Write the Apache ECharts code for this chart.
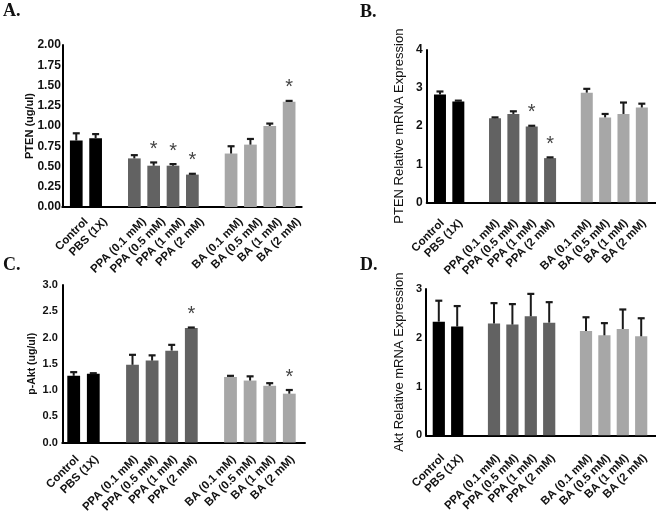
<!DOCTYPE html>
<html><head><meta charset="utf-8">
<script src="https://cdn.jsdelivr.net/npm/echarts@6/dist/echarts.min.js"></script>
<style>html,body{margin:0;padding:0;background:#fff}#c{width:656px;height:511px}</style>
</head><body><div id="c"></div>
<script>
// ---- data ----
const categories = ['Control','PBS (1X)','PPA (0.1 mM)','PPA (0.5 mM)','PPA (1 mM)','PPA (2 mM)','BA (0.1 mM)','BA (0.5 mM)','BA (1 mM)','BA (2 mM)'];
const groups = ['ctrl','ctrl','ppa','ppa','ppa','ppa','ba','ba','ba','ba'];

const ptenProtein      = [0.82,0.85,0.60,0.51,0.51,0.40,0.66,0.77,1.00,1.30];
const ptenProteinErr   = [0.09,0.05,0.04,0.04,0.02,0.01,0.09,0.07,0.03,0.01];
const ptenProteinSig   = [0,0,0,1,1,1,0,0,0,1];
const ptenProteinTicks = ['0.00','0.25','0.50','0.75','1.00','1.25','1.50','1.75','2.00'];

const ptenMrna      = [2.83,2.65,2.21,2.32,1.99,1.16,2.88,2.23,2.32,2.49];
const ptenMrnaErr   = [0.08,0.02,0.02,0.07,0.02,0.02,0.10,0.09,0.30,0.10];
const ptenMrnaSig   = [0,0,0,0,1,1,0,0,0,0];
const ptenMrnaTicks = ['0','1','2','3','4'];

const pAkt      = [1.27,1.31,1.48,1.56,1.75,2.18,1.25,1.18,1.08,0.93];
const pAktErr   = [0.07,0.01,0.19,0.10,0.11,0.01,0.02,0.08,0.05,0.07];
const pAktSig   = [0,0,0,0,0,1,0,0,0,1];
const pAktTicks = ['0.0','0.5','1.0','1.5','2.0','2.5','3.0'];

const aktMrna      = [2.33,2.23,2.29,2.27,2.44,2.31,2.14,2.05,2.18,2.03];
const aktMrnaErr   = [0.43,0.42,0.42,0.42,0.46,0.42,0.28,0.25,0.40,0.37];
const aktMrnaSig   = [0,0,0,0,0,0,0,0,0,0];
const aktMrnaTicks = ['0','1','2','3'];

// ---- layout / style ----
const colors = {ctrl:'#000000', ppa:'#626262', ba:'#a7a7a7'};
const FONT = '"Liberation Sans", Arial, sans-serif';
const slotOf = [0,1,3,4,5,6,8,9,10,11];
const axisCats = ['Control','PBS (1X)',' ','PPA (0.1 mM)','PPA (0.5 mM)','PPA (1 mM)','PPA (2 mM)','  ','BA (0.1 mM)','BA (0.5 mM)','BA (1 mM)','BA (2 mM)'];

const panels = [
  {title:'A.', tx:3, ty:2, name:'PTEN (ug/ul)', nameSize:11, nameBold:true, nameGap:27, tickSize:12, tm:1.5,
   vals:ptenProtein, errs:ptenProteinErr, sig:ptenProteinSig, ticks:ptenProteinTicks,
   axis:{left:62.3, top:45, width:239.4, height:162}, bars:{left:66.6, width:232.2}, bw:12.7, lm:3, lh:28},
  {title:'B.', tx:360, ty:3, name:'PTEN Relative mRNA Expression', nameSize:13, nameBold:false, nameGap:21, tickSize:12, tm:4,
   vals:ptenMrna, errs:ptenMrnaErr, sig:ptenMrnaSig, ticks:ptenMrnaTicks,
   axis:{left:426.7, top:50, width:229.3, height:152.3}, bars:{left:430.8, width:220.2}, bw:12, lm:16.5, lh:7},
  {title:'C.', tx:3, ty:256, name:'p-Akt (ug/ul)', nameSize:10.5, nameBold:true, nameGap:25, tickSize:11, tm:4.5,
   vals:pAkt, errs:pAktErr, sig:pAktSig, ticks:pAktTicks,
   axis:{left:62.3, top:285, width:242.7, height:157.5}, bars:{left:63.9, width:235.2}, bw:12.8, lm:11.5, lh:10},
  {title:'D.', tx:360, ty:256, name:'Akt Relative mRNA Expression', nameSize:13, nameBold:false, nameGap:20, tickSize:11, tm:4,
   vals:aktMrna, errs:aktMrnaErr, sig:aktMrnaSig, ticks:aktMrnaTicks,
   axis:{left:426, top:289, width:230, height:146.3}, bars:{left:429.6, width:220.8}, bw:12.2, lm:17, lh:11.4}
];

const grid = [], xAxis = [], yAxis = [], series = [], graphic = [];
panels.forEach((p, i) => {
  const tickNums = p.ticks.map(Number);
  const ymin = tickNums[0], ymax = tickNums[tickNums.length-1], step = tickNums[1]-tickNums[0];
  const dec = (p.ticks[1].split('.')[1] || '').length;
  const ga = grid.length;
  grid.push({left:p.axis.left, top:p.axis.top, width:p.axis.width, height:p.axis.height, containLabel:false, outerBoundsMode:'none'});
  const gb = grid.length;
  grid.push({left:p.bars.left, top:p.axis.top, width:p.bars.width, height:p.axis.height, containLabel:false, outerBoundsMode:'none'});
  // axis frame grid
  xAxis.push({gridIndex:ga, type:'value', min:0, max:1, axisLine:{show:true, onZero:false, lineStyle:{color:'#000', width:2}},
    axisTick:{show:false}, axisLabel:{show:false}, splitLine:{show:false}});
  yAxis.push({gridIndex:ga, type:'value', min:ymin, max:ymax, interval:step,
    name:p.name, nameLocation:'middle', nameGap:p.nameGap, nameRotate:90, nameMoveOverlap:false,
    nameTextStyle:{fontFamily:FONT, fontSize:p.nameSize, fontWeight:p.nameBold?'bold':'normal', color:'#111'},
    axisLine:{show:true, lineStyle:{color:'#000', width:2}}, axisTick:{show:false}, splitLine:{show:false},
    axisLabel:{show:true, margin:p.tm, fontFamily:FONT, fontSize:p.tickSize, fontWeight:'bold', color:'#111',
      formatter:v => v.toFixed(dec)}});
  // bar grid
  const xb = xAxis.length;
  xAxis.push({gridIndex:gb, type:'category', data:axisCats, boundaryGap:true,
    axisLine:{show:false}, axisTick:{show:false}, splitLine:{show:false},
    axisLabel:{interval:0, rotate:45, margin:p.lm, align:'right', verticalAlign:'top', lineHeight:p.lh,
      fontFamily:FONT, fontSize:11.5, fontWeight:'bold', color:'#111', hideOverlap:false}});
  const yb = yAxis.length;
  yAxis.push({gridIndex:gb, type:'value', min:ymin, max:ymax, interval:step, show:false, splitLine:{show:false}});
  const barData = axisCats.map(() => '-');
  p.vals.forEach((v, k) => { barData[slotOf[k]] = {value:v, itemStyle:{color:colors[groups[k]]}}; });
  series.push({type:'bar', xAxisIndex:xb, yAxisIndex:yb, data:barData, barWidth:p.bw, barGap:'-100%', silent:true, animation:false});
  const errData = p.vals.map((v, k) => [slotOf[k], v, p.errs[k], p.sig[k]]);
  series.push({type:'custom', xAxisIndex:xb, yAxisIndex:yb, data:errData, encode:{x:0, y:1}, silent:true, animation:false, z:5,
    renderItem:(params, api) => {
      const x = api.value(0), m = api.value(1), e = api.value(2), s = api.value(3);
      const p0 = api.coord([x, m]), p1 = api.coord([x, m + e]);
      const ch = [
        {type:'line', shape:{x1:p0[0], y1:p0[1], x2:p1[0], y2:p1[1]}, style:{stroke:'#1a1a1a', lineWidth:2}},
        {type:'line', shape:{x1:p1[0]-3.5, y1:p1[1], x2:p1[0]+3.5, y2:p1[1]}, style:{stroke:'#1a1a1a', lineWidth:2.2}}
      ];
      if (s) ch.push({type:'text', style:{text:'*', x:p1[0], y:p1[1]-3, align:'center', verticalAlign:'bottom',
        font:'normal 20px "Liberation Sans", Arial, sans-serif', fill:'#444'}});
      return {type:'group', children:ch};
    }});
  graphic.push({type:'text', left:p.tx, top:p.ty, style:{text:p.title, font:'bold 18px "Liberation Serif", "Times New Roman", serif', fill:'#111'}});
});

const chart = echarts.init(document.getElementById('c'), null, {renderer:'canvas'});
chart.setOption({animation:false, backgroundColor:'#fff', grid, xAxis, yAxis, series, graphic});
</script>
</body></html>
